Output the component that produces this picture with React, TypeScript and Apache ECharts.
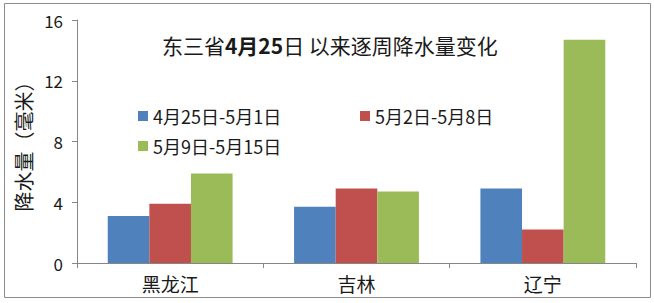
import React, { useEffect, useRef } from "react";
import * as echarts from "echarts";

const categories = ["黑龙江", "吉林", "辽宁"];
const seriesNames = ["4月25日-5月1日", "5月2日-5月8日", "5月9日-5月15日"];
const week1 = [3.1, 3.7, 4.9];
const week2 = [3.9, 4.9, 2.2];
const week3 = [5.9, 4.7, 14.7];
const yTicks = { min: 0, max: 16, interval: 4 };

const colors = ["#4F81BD", "#C0504D", "#9BBB59"];
const FONT = '"Noto Sans CJK SC", "Noto Sans", sans-serif';
const TEXT = "#1a1a1a";

export default function App() {
  const ref = useRef<HTMLDivElement>(null);
  useEffect(() => {
    if (!ref.current) return;
    const chart = echarts.init(ref.current, undefined, { renderer: "svg" });
    const values = [week1, week2, week3];
    const legendPos = [
      { left: 138, top: 107 },
      { left: 360, top: 107 },
      { left: 138, top: 137 },
    ];
    chart.setOption({
      animation: false,
      backgroundColor: "#ffffff",
      textStyle: { fontFamily: FONT },
      title: {
        left: 157,
        top: 29,
        text: "{a|东三省}{b|4月25}{a|日 以来逐周降水量变化}",
        textStyle: {
          fontWeight: "normal",
          rich: {
            a: { fontSize: 21, fontFamily: FONT, color: TEXT, fontWeight: "normal" },
            b: { fontSize: 21, fontFamily: FONT, color: TEXT, fontWeight: "bold" },
          },
        },
      },
      legend: seriesNames.map((n, i) => ({
        data: [n],
        left: legendPos[i].left,
        top: legendPos[i].top,
        icon: "rect",
        itemWidth: 10,
        itemHeight: 10,
        padding: 0,
        textStyle: { fontSize: 18, color: TEXT, fontFamily: FONT },
      })),
      grid: { left: 77, right: 18, top: 20, bottom: 40 },
      xAxis: {
        type: "category",
        data: categories,
        axisLine: { show: true, lineStyle: { color: "#868686", width: 1 } },
        axisTick: { show: true, length: 5, lineStyle: { color: "#868686" } },
        axisLabel: { fontSize: 19, color: TEXT, margin: 11, fontFamily: FONT },
      },
      yAxis: {
        type: "value",
        min: yTicks.min,
        max: yTicks.max,
        interval: yTicks.interval,
        name: "降水量（毫米）",
        nameLocation: "middle",
        nameRotate: 90,
        nameGap: 44,
        nameTextStyle: { fontSize: 20, color: TEXT, fontFamily: FONT },
        axisLine: { show: true, lineStyle: { color: "#868686", width: 1 } },
        axisTick: { show: true, length: 5, lineStyle: { color: "#868686" } },
        axisLabel: { fontSize: 17, color: TEXT, margin: 14, fontFamily: FONT },
        splitLine: { show: false },
      },
      series: seriesNames.map((n, i) => ({
        name: n,
        type: "bar",
        data: values[i],
        barGap: "0%",
        barCategoryGap: "33%",
        itemStyle: { color: colors[i] },
      })),
      graphic: [
        {
          type: "rect",
          shape: { x: 4.5, y: 3.5, width: 646, height: 294 },
          style: { fill: "none", stroke: "#8c8c8c", lineWidth: 1 },
          silent: true,
        },
      ],
    });
    return () => chart.dispose();
  }, []);
  return (
    <div
      ref={ref}
      style={{ position: "fixed", left: 0, top: 0, width: 654, height: 303 }}
    />
  );
}
